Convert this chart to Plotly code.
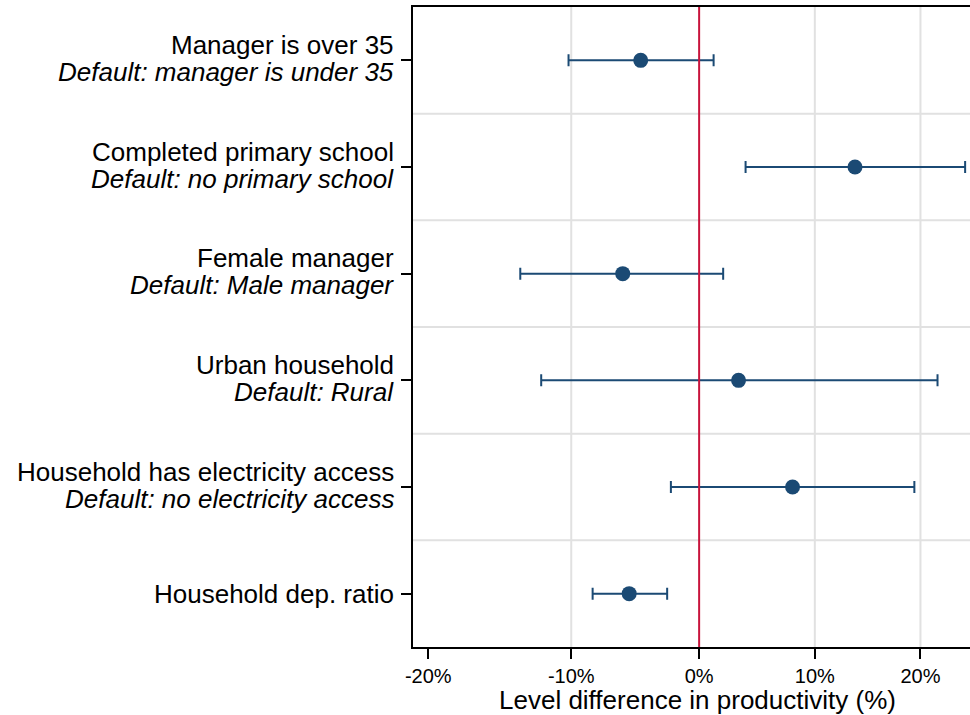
import math
import plotly.graph_objects as go

# Coefficient plot: level difference in productivity with 95% confidence intervals
labels_main = [
    "Manager is over 35",
    "Completed primary school",
    "Female manager",
    "Urban household",
    "Household has electricity access",
    "Household dep. ratio",
]
labels_default = [
    "Default: manager is under 35",
    "Default: no primary school",
    "Default: Male manager",
    "Default: Rural",
    "Default: no electricity access",
    "",
]
est_pct = [-4.7, 13.7, -6.1, 3.3, 8.0, -5.6]
lo_pct = [-10.2, 3.9, -13.7, -12.2, -2.3, -8.4]
hi_pct = [1.2, 24.5, 2.0, 21.7, 19.4, -2.6]

tick_pct = [-20, -10, 0, 10, 20]
tick_text = ["-20%", "-10%", "0%", "10%", "20%"]
grid_pct = [-10, 10, 20]
x_title = "Level difference in productivity (%)"

# the axis is logarithmic in (1 + difference)
ratio = [1 + v / 100 for v in est_pct]
ratio_lo = [1 + v / 100 for v in lo_pct]
ratio_hi = [1 + v / 100 for v in hi_pct]
rows = list(range(len(labels_main)))

BLUE = "#1b4a74"
RED = "#c8143c"
GRID = "#e1e1e1"
FONT = "Liberation Sans, Arial, sans-serif"
LABEL_SIZE = 26

fig = go.Figure()
fig.add_trace(go.Scatter(
    x=ratio,
    y=rows,
    mode="markers",
    marker=dict(color=BLUE, size=15),
    error_x=dict(
        type="data",
        symmetric=False,
        array=[h - r for h, r in zip(ratio_hi, ratio)],
        arrayminus=[r - l for r, l in zip(ratio, ratio_lo)],
        color=BLUE,
        thickness=2,
        width=6,
    ),
    showlegend=False,
))

for g in grid_pct:
    fig.add_vline(x=1 + g / 100, line=dict(color=GRID, width=2), layer="below")
for r in rows[:-1]:
    fig.add_hline(y=r + 0.5, line=dict(color=GRID, width=2), layer="below")
fig.add_vline(x=1.0, line=dict(color=RED, width=2), layer="above")

# Two-line row labels: plain description over italic baseline category
label_font = dict(size=LABEL_SIZE, color="black", family=FONT)
for r, main, default in zip(rows, labels_main, labels_default):
    if default:
        fig.add_annotation(x=0, xref="paper", y=r, yref="y", text=main,
                           xanchor="right", yanchor="middle", xshift=-17, yshift=15.5,
                           showarrow=False, font=label_font)
        fig.add_annotation(x=0, xref="paper", y=r, yref="y", text="<i>" + default + "</i>",
                           xanchor="right", yanchor="middle", xshift=-17, yshift=-11.5,
                           showarrow=False, font=label_font)
    else:
        fig.add_annotation(x=0, xref="paper", y=r, yref="y", text=main,
                           xanchor="right", yanchor="middle", xshift=-17, yshift=0,
                           showarrow=False, font=label_font)

# x-axis title, centred under the full (partly cropped) plotting frame
fig.add_annotation(x=0.51, xref="paper", y=0, yref="paper", text=x_title,
                   xanchor="center", yanchor="middle", yshift=-53,
                   showarrow=False, font=label_font)

fig.update_layout(
    width=970,
    height=715,
    margin=dict(l=413, r=0, t=7, b=68),
    paper_bgcolor="white",
    plot_bgcolor="white",
    font=dict(family=FONT, color="black"),
    xaxis=dict(
        type="log",
        range=[math.log10(0.790), math.log10(1.250)],
        tickvals=[1 + t / 100 for t in tick_pct],
        ticktext=tick_text,
        tickfont=dict(size=20),
        ticks="outside",
        ticklen=10,
        tickwidth=1.5,
        tickcolor="black",
        showline=True,
        linecolor="black",
        linewidth=2,
        mirror=True,
        showgrid=False,
        zeroline=False,
    ),
    yaxis=dict(
        range=[5.5, -0.5],
        tickvals=rows,
        showticklabels=False,
        ticks="outside",
        ticklen=10,
        tickwidth=1.5,
        tickcolor="black",
        showline=True,
        linecolor="black",
        linewidth=2,
        showgrid=False,
        zeroline=False,
    ),
)

fig.write_html("out.html")
